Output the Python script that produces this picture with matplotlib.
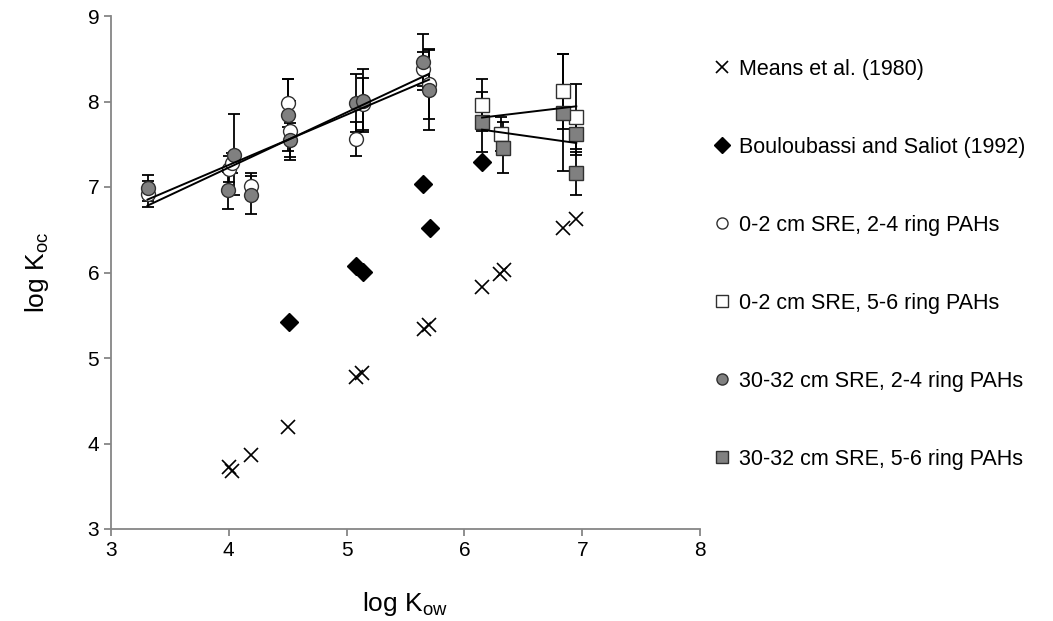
import numpy as np
import matplotlib.pyplot as plt
from matplotlib.lines import Line2D

plt.rcParams['font.family'] = ['Liberation Sans', 'DejaVu Sans']
plt.rcParams['mathtext.default'] = 'regular'

# Means et al. (1980)
means_kow = [4.00, 4.03, 4.19, 4.50, 5.08, 5.13, 5.66, 5.70, 6.15, 6.30, 6.34, 6.84, 6.95]
means_koc = [3.72, 3.68, 3.87, 4.19, 4.78, 4.83, 5.34, 5.39, 5.83, 5.98, 6.03, 6.52, 6.63]

# Bouloubassi and Saliot (1992)
boul_kow = [4.51, 5.08, 5.14, 5.65, 5.71, 6.15]
boul_koc = [5.42, 6.08, 6.01, 7.04, 6.52, 7.29]

# 2-4 ring PAHs
ring24_kow_top = [3.31, 4.00, 4.03, 4.19, 4.50, 4.52, 5.08, 5.14, 5.65, 5.70]
ring24_koc_top = [6.92, 7.21, 7.28, 7.01, 7.98, 7.66, 7.56, 7.97, 8.38, 8.20]
ring24_err_top = [0.15, 0.15, 0.12, 0.15, 0.28, 0.35, 0.20, 0.30, 0.20, 0.40]

ring24_kow_deep = [3.31, 3.99, 4.04, 4.19, 4.50, 4.52, 5.08, 5.14, 5.65, 5.70]
ring24_koc_deep = [6.99, 6.96, 7.38, 6.91, 7.84, 7.55, 7.98, 8.01, 8.46, 8.14]
ring24_err_deep = [0.15, 0.22, 0.47, 0.22, 0.42, 0.20, 0.34, 0.37, 0.33, 0.47]

# 5-6 ring PAHs
ring56_kow_top = [6.15, 6.31, 6.84, 6.95]
ring56_koc_top = [7.96, 7.62, 8.12, 7.82]
ring56_err_top = [0.30, 0.20, 0.44, 0.38]

ring56_kow_deep = [6.15, 6.33, 6.84, 6.95, 6.95]
ring56_koc_deep = [7.76, 7.46, 7.87, 7.62, 7.16]
ring56_err_deep = [0.35, 0.30, 0.68, 0.25, 0.25]

labels = ['Means et al. (1980)', 'Bouloubassi and Saliot (1992)',
          '0-2 cm SRE, 2-4 ring PAHs', '0-2 cm SRE, 5-6 ring PAHs',
          '30-32 cm SRE, 2-4 ring PAHs', '30-32 cm SRE, 5-6 ring PAHs']

GRAY = '#808080'

fig = plt.figure(figsize=(10.53, 6.21), dpi=100)
ax = fig.add_axes([111 / 1053, 1 - 529 / 621, 589 / 1053, 513 / 621])


def trend(x, y):
    # linear least squares line over the span of the data
    k, b = np.polyfit(x, y, 1)
    xs = np.array([min(x), max(x)])
    ax.plot(xs, k * xs + b, color='black', lw=1.4, zorder=6)


def series(x, y, err, marker, face, ms):
    ax.errorbar(x, y, yerr=err, fmt='none', ecolor='black', elinewidth=1.3,
                capsize=4, capthick=1.3, zorder=3)
    ax.plot(x, y, ls='none', marker=marker, ms=ms, mfc=face, mec='#303030',
            mew=1.0, zorder=4)


ax.plot(means_kow, means_koc, ls='none', marker='x', ms=10, mew=1.2,
        color='black', zorder=4)
ax.plot(boul_kow, boul_koc, ls='none', marker='D', ms=9, color='black', zorder=4)

series(ring24_kow_top, ring24_koc_top, ring24_err_top, 'o', 'white', 10)
series(ring56_kow_top, ring56_koc_top, ring56_err_top, 's', 'white', 10)
series(ring24_kow_deep, ring24_koc_deep, ring24_err_deep, 'o', GRAY, 10)
series(ring56_kow_deep, ring56_koc_deep, ring56_err_deep, 's', GRAY, 10)

trend(ring24_kow_top, ring24_koc_top)
trend(ring24_kow_deep, ring24_koc_deep)
trend(ring56_kow_top, ring56_koc_top)
trend(ring56_kow_deep, ring56_koc_deep)

ax.set_xlim(3, 8)
ax.set_ylim(3, 9)
ax.set_xticks(range(3, 9))
ax.set_yticks(range(3, 10))
for side in ['top', 'right']:
    ax.spines[side].set_visible(False)
for side in ['left', 'bottom']:
    ax.spines[side].set_color('#868686')
    ax.spines[side].set_linewidth(1.3)
ax.tick_params(colors='#868686', labelcolor='black', labelsize=15,
               length=5, width=1.3, direction='out')
ax.set_xlabel('log K$_{ow}$', fontsize=19, labelpad=22)
ax.set_ylabel('log K$_{oc}$', fontsize=19, labelpad=26)

handles = [
    Line2D([], [], ls='none', marker='x', ms=9, mew=1.2, color='black'),
    Line2D([], [], ls='none', marker='D', ms=8, color='black'),
    Line2D([], [], ls='none', marker='o', ms=8, mfc='white', mec='#303030', mew=1.0),
    Line2D([], [], ls='none', marker='s', ms=8, mfc='white', mec='#303030', mew=1.0),
    Line2D([], [], ls='none', marker='o', ms=8, mfc=GRAY, mec='#303030', mew=1.0),
    Line2D([], [], ls='none', marker='s', ms=8, mfc=GRAY, mec='#303030', mew=1.0),
]
fig.legend(handles, labels, loc='upper left', bbox_to_anchor=(703 / 1053, 1 - 48 / 621),
           frameon=False, fontsize=15.5, labelspacing=2.65, handlelength=0.8,
           handletextpad=0.35, borderpad=0)

fig.savefig('out.png', dpi=100)
